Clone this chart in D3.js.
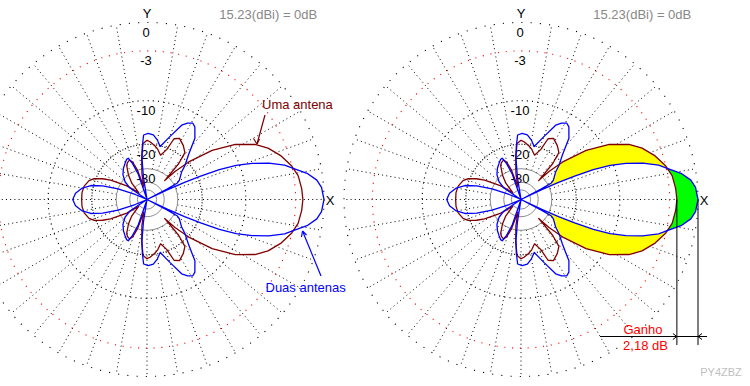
<!DOCTYPE html>
<html><head><meta charset="utf-8">
<script src="https://cdn.jsdelivr.net/npm/d3@7"></script>
<style>html,body{margin:0;padding:0;background:#fff;}svg{display:block;}</style>
</head><body>
<script>
// ---- data ----
const ringDb = [0, -3, -10, -20, -30];
const ringLabels = ["0", "-3", "-10", "-20", "-30"];
const grayRingDb = [-30, -40, -50];
const spokeAngles = d3.range(0, 360, 10).filter(a => a !== 90);
const refText = "15.23(dBi) = 0dB";
const gainDb = 2.18;

// Uma antena (upper half, angle in degrees from X axis, dB)
const redAngles = [0, 4, 9, 13, 18, 23, 27, 32, 37, 42, 45, 47, 48.5, 51, 56, 62, 66, 68.5, 73, 78, 82, 87, 90, 94, 97, 101, 104, 108, 111, 114, 118, 121, 127, 133, 140, 146, 149, 152, 155, 158.5, 162, 168, 174, 180];
const redDb = [-2.18, -2.27, -2.5, -3.0, -3.9, -5.1, -6.5, -9.1, -13.3, -19.7, -25.7, -33, -22.5, -18.5, -17.2, -16.1, -16.8, -20.5, -23, -21.2, -20.2, -19.2, -18.8, -19.7, -24.2, -32.5, -45, -30, -25.5, -24.2, -24.8, -25.8, -30, -35.6, -48, -34, -30, -25, -22, -19.5, -18.3, -17.4, -17.1, -17.1];

// Duas antenas (upper half)
const blueAngles = [0, 4, 6.5, 9.3, 12, 14, 16.6, 19, 21, 22.5, 23.5, 24.5, 25.5, 26.5, 27.5, 28.5, 31, 34, 38.7, 42, 47, 52, 56.6, 59, 62, 65, 70, 76, 80, 84.4, 89, 93, 95, 97, 99, 102, 109, 112, 114.4, 117, 121, 127, 134, 141, 146, 150, 157, 160, 163, 166, 170, 175, 180];
const blueDb = [0, -0.2, -0.6, -1.5, -2.9, -3.8, -5.7, -8.0, -10.6, -14, -19, -25, -35, -99, -35, -28, -26.5, -25.5, -23.7, -21.3, -18.4, -14.1, -12.2, -11.8, -12.3, -13.2, -16.7, -20.2, -18.5, -17.2, -16.9, -17.3, -20.5, -25, -35, -99, -32, -26, -23.4, -23.5, -24.5, -25.9, -28, -31.5, -37, -99, -45, -30, -23, -19.2, -17, -15.5, -14.9];

// ---- layout ----
const W = 750, H = 386, R = 177, CY = 199.5;
const centersX = [147, 521];
const FONT = "'Liberation Sans', Arial, sans-serif";

const dbToLog = d3.scaleLinear().domain([-60, 0]).range([Math.log(R * Math.pow(0.89, 30)), Math.log(R)]);
const rOf = db => Math.exp(dbToLog(db));

function fullPattern(angles, dbs) {
  const pts = angles.map((a, i) => [a, dbs[i]]);
  for (let i = angles.length - 2; i > 0; i--) pts.push([360 - angles[i], dbs[i]]);
  return pts;
}
const radial = d3.lineRadial()
  .angle(d => Math.PI / 2 - d[0] * Math.PI / 180)
  .radius(d => rOf(d[1]))
  .curve(d3.curveLinearClosed);

const redPts = fullPattern(redAngles, redDb);
const bluePts = fullPattern(blueAngles, blueDb);

const svg = d3.select("body").append("svg").attr("width", W).attr("height", H);
svg.append("rect").attr("width", W).attr("height", H).attr("fill", "#fff");
const defs = svg.append("defs");

centersX.forEach((cx, ci) => {
  const g = svg.append("g").attr("transform", `translate(${cx},${CY})`);

  // spokes
  spokeAngles.forEach(a => {
    const t = a * Math.PI / 180;
    const r0 = rOf(-30), r1 = R;
    g.append("line")
      .attr("x1", r0 * Math.cos(t)).attr("y1", -r0 * Math.sin(t))
      .attr("x2", r1 * Math.cos(t)).attr("y2", -r1 * Math.sin(t))
      .attr("stroke", "#000").attr("stroke-width", 1)
      .attr("stroke-dasharray", "1,3.2");
  });
  // gray rings
  grayRingDb.forEach(db => {
    g.append("circle").attr("r", rOf(db)).attr("fill", "none")
      .attr("stroke", "#8c8c8c").attr("stroke-width", 1);
  });
  // dotted rings
  ringDb.filter(d => d !== -30).forEach(db => {
    const r = rOf(db);
    const step = 2 * Math.PI * r / 120;
    g.append("circle").attr("r", r).attr("fill", "none")
      .attr("stroke", db === -3 ? "#ff0000" : "#000").attr("stroke-width", 1.1)
      .attr("stroke-dasharray", `1.1,${(step - 1.1).toFixed(3)}`);
  });
  // ring labels
  ringDb.forEach((db, i) => {
    const y = -rOf(db) + 14.5;
    g.append("text").attr("x", -1).attr("y", y).attr("text-anchor", "middle")
      .attr("font-family", FONT).attr("font-size", 13).attr("fill", "#000")
      .text(ringLabels[i]);
  });
  g.append("text").attr("x", 0).attr("y", -181.5).attr("text-anchor", "middle")
    .attr("font-family", FONT).attr("font-size", 13).text("Y");
  g.append("text").attr("x", 183).attr("y", 5).attr("text-anchor", "middle")
    .attr("font-family", FONT).attr("font-size", 13).text("X");
  g.append("text").attr("x", 72.3).attr("y", -180.5)
    .attr("font-family", FONT).attr("font-size", 13).attr("fill", "#888").text(refText);

  if (ci === 1) {
    const sector = (a0, a1) => {
      const arc = d3.arc().innerRadius(0).outerRadius(R + 20)
        .startAngle(Math.PI / 2 - a1 * Math.PI / 180).endAngle(Math.PI / 2 - a0 * Math.PI / 180);
      return arc();
    };
    defs.append("clipPath").attr("id", "secY").append("path").attr("d", sector(-45, 45));
    defs.append("clipPath").attr("id", "secG").append("path").attr("d", sector(-20, 20));
    const mB = defs.append("mask").attr("id", "notBlue").attr("maskUnits", "userSpaceOnUse")
      .attr("x", -250).attr("y", -250).attr("width", 500).attr("height", 500);
    mB.append("rect").attr("x", -250).attr("y", -250).attr("width", 500).attr("height", 500).attr("fill", "#fff");
    mB.append("path").attr("d", radial(bluePts)).attr("fill", "#000");
    const mR = defs.append("mask").attr("id", "notRed").attr("maskUnits", "userSpaceOnUse")
      .attr("x", -250).attr("y", -250).attr("width", 500).attr("height", 500);
    mR.append("rect").attr("x", -250).attr("y", -250).attr("width", 500).attr("height", 500).attr("fill", "#fff");
    mR.append("path").attr("d", radial(redPts)).attr("fill", "#000");

    g.append("g").attr("clip-path", "url(#secY)")
      .append("path").attr("d", radial(redPts)).attr("fill", "#ffff00").attr("mask", "url(#notBlue)");
    g.append("g").attr("clip-path", "url(#secG)")
      .append("path").attr("d", radial(bluePts)).attr("fill", "#00ff00").attr("mask", "url(#notRed)");
  }

  g.append("path").attr("d", radial(redPts)).attr("fill", "none")
    .attr("stroke", "#800000").attr("stroke-width", 1.3).attr("stroke-linejoin", "round");
  g.append("path").attr("d", radial(bluePts)).attr("fill", "none")
    .attr("stroke", "#0000ff").attr("stroke-width", 1.3).attr("stroke-linejoin", "round");

  if (ci === 1) {
    const xr = rOf(redDb[0]), xb = rOf(blueDb[0]);
    const yH = 336.5 - CY;
    const ln = (x1, y1, x2, y2, c) => g.append("line").attr("x1", x1).attr("y1", y1)
      .attr("x2", x2).attr("y2", y2).attr("stroke", c || "#000").attr("stroke-width", 1);
    ln(xr, 0, xr, 345 - CY);
    ln(xb, 0, xb, 345 - CY);
    ln(600 - cx, yH, 707 - cx, yH);
    ln(xr - 4, yH - 3, xr, yH); ln(xr - 4, yH + 3, xr, yH);
    ln(xb + 4, yH - 3, xb, yH); ln(xb + 4, yH + 3, xb, yH);
    g.append("text").attr("x", 643 - cx).attr("y", 334 - CY).attr("text-anchor", "middle")
      .attr("font-family", FONT).attr("font-size", 13).attr("fill", "#ff0000").text("Ganho");
    g.append("text").attr("x", 645.5 - cx).attr("y", 349.7 - CY).attr("text-anchor", "middle")
      .attr("font-family", FONT).attr("font-size", 13).attr("fill", "#ff0000").text(gainDb.toFixed(2).replace(".", ",") + " dB");
  }
});

// annotations on the left chart
const ann = svg.append("g");
const aline = (x1, y1, x2, y2, c) => ann.append("line").attr("x1", x1).attr("y1", y1)
  .attr("x2", x2).attr("y2", y2).attr("stroke", c).attr("stroke-width", 1.2);
ann.append("text").attr("x", 262).attr("y", 108.5).attr("font-family", FONT).attr("font-size", 13)
  .attr("fill", "#800000").text("Uma antena");
aline(265, 115, 257, 144, "#800000");
aline(253.5, 138.5, 257, 144, "#800000"); aline(259.5, 139, 257, 144, "#800000");
ann.append("text").attr("x", 265.5).attr("y", 292).attr("font-family", FONT).attr("font-size", 13)
  .attr("fill", "#0000ff").text("Duas antenas");
aline(321, 276, 302.5, 231, "#0000ff");
aline(301.5, 237, 302.5, 231, "#0000ff"); aline(306.5, 235, 302.5, 231, "#0000ff");

svg.append("text").attr("x", 721).attr("y", 376).attr("text-anchor", "middle")
  .attr("font-family", FONT).attr("font-size", 11).attr("fill", "#c0c0c0").text("PY4ZBZ");
</script>
</body></html>
